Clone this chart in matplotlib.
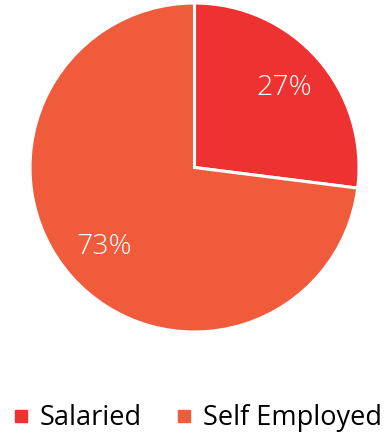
import matplotlib
matplotlib.use("Agg")
import matplotlib.pyplot as plt
from matplotlib.lines import Line2D

categories = ["Salaried", "Self Employed"]
values = [27, 73]
colors = ["#EE3232", "#EF5B3B"]

plt.rcParams['font.family'] = ['Open Sans', 'DejaVu Sans']

fig = plt.figure(figsize=(3.88, 4.36), dpi=100)
ax = fig.add_axes([30/388, (436-332)/436, 329/388, 329/436])
wedges, texts, autotexts = ax.pie(values, colors=colors, startangle=90, counterclock=False,
       autopct=lambda p: f"{p:.0f}%", pctdistance=0.73,
       wedgeprops=dict(edgecolor="white", linewidth=2.2),
       textprops=dict(color="white", fontsize=20.5, fontweight="light"))
ax.set_xlim(-1, 1); ax.set_ylim(-1, 1)
ax.set_aspect('equal')

handles = [Line2D([0], [0], marker='s', linestyle='none', markersize=9,
                  markerfacecolor=c, markeredgecolor=c) for c in colors]
fig.legend(handles, categories, loc='center', bbox_to_anchor=(0.505, (436-418)/436),
           ncol=2, frameon=False, fontsize=19.5, handletextpad=0.3, columnspacing=1.15,
           handlelength=0.8)
fig.savefig("out.png", dpi=100)
